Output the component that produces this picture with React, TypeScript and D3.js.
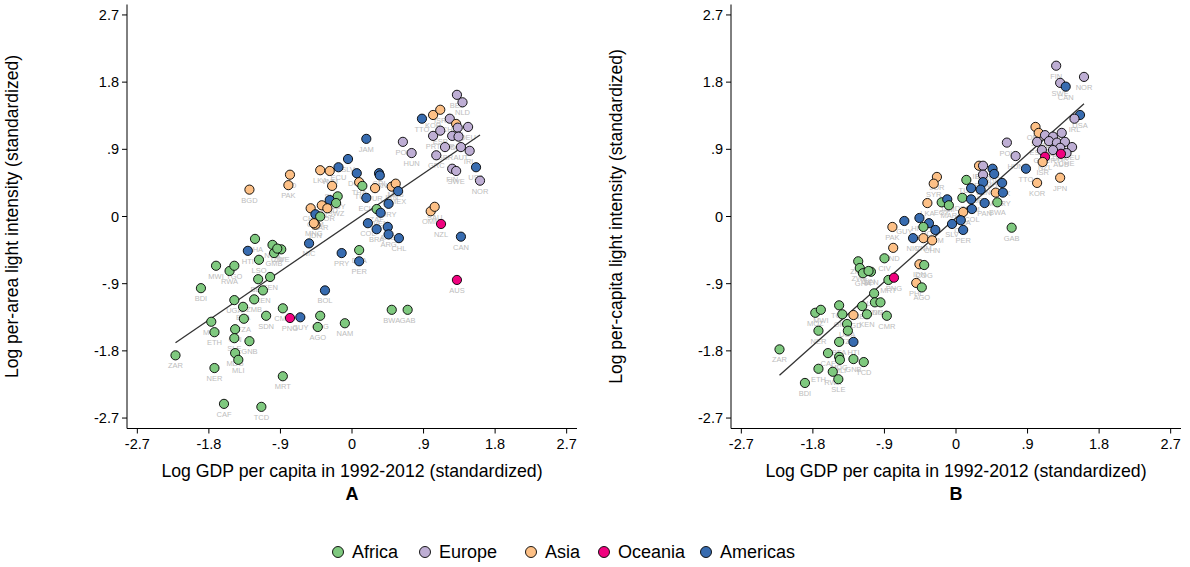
import React from 'react';
import * as d3 from 'd3';

// region colours (ColorBrewer Accent, as in the figure)
const regions = ['Africa', 'Europe', 'Asia', 'Oceania', 'Americas'];
const regionColors = ['#7fc97f', '#beaed4', '#fdc086', '#f0027f', '#386cb0'];
const regionCode = { AF: 'Africa', EU: 'Europe', AS: 'Asia', OC: 'Oceania', AM: 'Americas' };

const tickValues = [-2.7, -1.8, -0.9, 0, 0.9, 1.8, 2.7];
const tickLabels = ['-2.7', '-1.8', '-.9', '0', '.9', '1.8', '2.7'];

const xTitle = 'Log GDP per capita in 1992-2012 (standardized)';

// panel A: [iso, region, log GDP pc, log per-area light]
const areaPoints = [
  ['ZAR', 'AF', -2.22, -1.86], ['NER', 'AF', -1.73, -2.03], ['CAF', 'AF', -1.61, -2.51],
  ['TCD', 'AF', -1.14, -2.55], ['MRT', 'AF', -0.87, -2.14], ['BDI', 'AF', -1.90, -0.96],
  ['MWI', 'AF', -1.71, -0.66], ['RWA', 'AF', -1.54, -0.73], ['TGO', 'AF', -1.48, -0.66],
  ['MOZ', 'AF', -1.77, -1.41], ['ETH', 'AF', -1.73, -1.55], ['UGA', 'AF', -1.48, -1.12],
  ['BFA', 'AF', -1.37, -1.21], ['TZA', 'AF', -1.36, -1.37], ['ZMB', 'AF', -1.23, -1.11],
  ['GIN', 'AF', -1.47, -1.51], ['SLE', 'AF', -1.48, -1.63], ['GNB', 'AF', -1.29, -1.67],
  ['MDG', 'AF', -1.47, -1.83], ['MLI', 'AF', -1.43, -1.92], ['GHA', 'AF', -1.22, -0.30],
  ['HTI', 'AM', -1.31, -0.46], ['NGA', 'AF', -1.00, -0.38], ['GMB', 'AF', -0.98, -0.49],
  ['ZWE', 'AF', -0.89, -0.44], ['LSO', 'AF', -1.17, -0.58], ['BEN', 'AF', -1.18, -0.84],
  ['SEN', 'AF', -1.03, -0.81], ['KEN', 'AF', -1.12, -0.99], ['SDN', 'AF', -1.08, -1.33],
  ['CMR', 'AF', -0.87, -1.23], ['PNG', 'OC', -0.78, -1.36], ['GUY', 'AM', -0.65, -1.35],
  ['COG', 'AF', -0.40, -1.33], ['AGO', 'AF', -0.43, -1.48], ['NAM', 'AF', -0.09, -1.43],
  ['BOL', 'AM', -0.34, -0.99], ['PRY', 'AM', -0.13, -0.49], ['DZA', 'AF', 0.09, -0.45],
  ['PER', 'AM', 0.09, -0.60], ['NIC', 'AM', -0.54, -0.36], ['CIV', 'AF', -0.94, -0.43],
  ['BGD', 'AS', -1.29, 0.36], ['IND', 'AS', -0.78, 0.56], ['PAK', 'AS', -0.80, 0.42],
  ['LKA', 'AS', -0.40, 0.62], ['VNM', 'AS', -0.28, 0.61], ['SLV', 'AM', -0.05, 0.77],
  ['JAM', 'AM', 0.18, 1.04], ['DOM', 'AM', 0.06, 0.58], ['THA', 'AS', 0.09, 0.46],
  ['TUN', 'AF', 0.13, 0.41], ['ECU', 'AM', 0.18, 0.25], ['COL', 'AM', 0.20, -0.09],
  ['SYR', 'AS', -0.25, 0.41], ['EGY', 'AF', -0.18, 0.27], ['HND', 'AM', -0.28, 0.22],
  ['SWZ', 'AF', -0.20, 0.18], ['PHL', 'AS', -0.38, 0.15], ['CHN', 'AS', -0.52, 0.11],
  ['GTM', 'AM', -0.46, 0.03], ['JOR', 'AS', -0.31, 0.11], ['MAR', 'AF', -0.40, 0.0],
  ['IDN', 'AS', -0.46, -0.11], ['BEL', 'EU', 1.32, 1.63], ['NLD', 'EU', 1.39, 1.53],
  ['TTO', 'AM', 0.88, 1.31], ['KOR', 'AS', 1.02, 1.36], ['ISR', 'AS', 1.11, 1.43],
  ['CHE', 'EU', 1.23, 1.31], ['JPN', 'AS', 1.31, 1.24], ['DEU', 'EU', 1.46, 1.20],
  ['ITA', 'EU', 1.33, 1.19], ['PRT', 'EU', 1.02, 1.08], ['ESP', 'EU', 1.11, 1.15],
  ['FRA', 'EU', 1.26, 1.08], ['DNK', 'EU', 1.34, 1.07], ['GBR', 'EU', 1.17, 0.93],
  ['AUT', 'EU', 1.37, 0.93], ['GRC', 'EU', 1.06, 0.82], ['IRL', 'EU', 1.48, 0.88],
  ['USA', 'AM', 1.56, 0.66], ['FIN', 'EU', 1.26, 0.64], ['SWE', 'EU', 1.31, 0.61],
  ['NOR', 'EU', 1.61, 0.48], ['POL', 'EU', 0.64, 1.00], ['HUN', 'EU', 0.75, 0.85],
  ['CRI', 'AM', 0.34, 0.58], ['PAN', 'AM', 0.35, 0.55], ['TUR', 'AS', 0.29, 0.38],
  ['IRN', 'AS', 0.50, 0.40], ['MYS', 'AS', 0.55, 0.44], ['MEX', 'AM', 0.58, 0.34],
  ['URY', 'AM', 0.46, 0.17], ['ZAF', 'AF', 0.31, 0.10], ['VEN', 'AM', 0.36, 0.05],
  ['BRA', 'AM', 0.31, -0.17], ['ARG', 'AM', 0.45, -0.14], ['CHL', 'AM', 0.59, -0.29],
  ['ARG', 'AM', 0.46, -0.24], ['OMN', 'AS', 0.99, 0.07], ['SAU', 'AS', 1.04, 0.13],
  ['NZL', 'OC', 1.12, -0.10], ['CAN', 'AM', 1.37, -0.27], ['AUS', 'OC', 1.32, -0.85],
  ['BWA', 'AF', 0.50, -1.25], ['GAB', 'AF', 0.70, -1.25], ['MNG', 'AS', -0.48, -0.09],
  ['ECU', 'AM', -0.17, 0.66]
];

// panel B: [iso, region, log GDP pc, log per-capita light]
const capitaPoints = [
  ['FIN', 'EU', 1.26, 2.02], ['NOR', 'EU', 1.61, 1.87], ['SWE', 'EU', 1.31, 1.79],
  ['CAN', 'AM', 1.38, 1.74], ['USA', 'AM', 1.56, 1.36], ['IRL', 'EU', 1.49, 1.31],
  ['OMN', 'AS', 1.00, 1.20], ['SAU', 'AS', 1.04, 1.12], ['GBR', 'EU', 1.12, 1.09],
  ['FRA', 'EU', 1.22, 1.07], ['NLD', 'EU', 1.33, 1.12], ['ESP', 'EU', 1.02, 1.00],
  ['ITA', 'EU', 1.17, 1.01], ['BEL', 'EU', 1.27, 0.99], ['AUT', 'EU', 1.37, 1.00],
  ['DEU', 'EU', 1.46, 0.93], ['GRC', 'EU', 1.08, 0.89], ['DNK', 'EU', 1.31, 0.92],
  ['CHE', 'EU', 1.39, 0.85], ['PRT', 'EU', 1.22, 0.89], ['NZL', 'OC', 1.12, 0.80],
  ['AUS', 'OC', 1.32, 0.84], ['ISR', 'AS', 1.09, 0.73], ['JPN', 'AS', 1.31, 0.52],
  ['KOR', 'AS', 1.02, 0.45], ['TTO', 'AM', 0.88, 0.64], ['POL', 'EU', 0.64, 0.99],
  ['HUN', 'EU', 0.75, 0.81], ['IRN', 'AS', 0.29, 0.68], ['BGR', 'EU', 0.34, 0.68],
  ['ARG', 'AM', 0.46, 0.64], ['CHL', 'AM', 0.48, 0.57], ['ROM', 'EU', 0.34, 0.56],
  ['VEN', 'AM', 0.34, 0.46], ['MEX', 'AM', 0.58, 0.45], ['TUN', 'AF', 0.13, 0.49],
  ['ECU', 'AM', 0.19, 0.38], ['BRA', 'AM', 0.31, 0.36], ['MYS', 'AS', 0.50, 0.32],
  ['URY', 'AM', 0.59, 0.32], ['BWA', 'AF', 0.52, 0.19], ['PAN', 'AM', 0.36, 0.18],
  ['DZA', 'AF', 0.08, 0.25], ['DOM', 'AM', 0.19, 0.23], ['COL', 'AM', 0.20, 0.10],
  ['THA', 'AS', 0.09, 0.06], ['CRI', 'AM', 0.06, -0.05], ['SLV', 'AM', -0.05, -0.10],
  ['PER', 'AM', 0.09, -0.18], ['GAB', 'AF', 0.70, -0.15], ['JOR', 'AS', -0.24, 0.53],
  ['SYR', 'AS', -0.28, 0.44], ['LKA', 'AS', -0.36, 0.18], ['EGY', 'AF', -0.18, 0.19],
  ['JAM', 'AM', -0.11, 0.23], ['MAR', 'AF', -0.09, 0.15], ['GUY', 'AM', -0.65, -0.06],
  ['HND', 'AM', -0.46, -0.02], ['BOL', 'AM', -0.34, -0.09], ['SWZ', 'AF', -0.41, -0.14],
  ['GTM', 'AM', -0.26, -0.18], ['NIC', 'AM', -0.54, -0.29], ['VNM', 'AS', -0.41, -0.29],
  ['CHN', 'AS', -0.30, -0.32], ['PAK', 'AS', -0.80, -0.14], ['IND', 'AS', -0.79, -0.42],
  ['CIV', 'AF', -0.90, -0.56], ['ZMB', 'AF', -1.23, -0.60], ['ZWE', 'AF', -1.21, -0.69],
  ['GHA', 'AF', -1.17, -0.76], ['SEN', 'AF', -1.07, -0.74], ['MRT', 'AF', -0.85, -0.85],
  ['PNG', 'OC', -0.78, -0.82], ['IDN', 'AS', -0.46, -0.64], ['COG', 'AF', -0.40, -0.65],
  ['PHL', 'AS', -0.50, -0.89], ['AGO', 'AF', -0.43, -0.95], ['LSO', 'AF', -1.03, -1.03],
  ['SDN', 'AF', -1.02, -1.15], ['NGA', 'AF', -0.95, -1.15], ['BEN', 'AF', -1.18, -1.20],
  ['KEN', 'AF', -1.12, -1.31], ['CMR', 'AF', -0.87, -1.33], ['BGD', 'AS', -1.29, -1.32],
  ['TGO', 'AF', -1.47, -1.19], ['GMB', 'AF', -1.43, -1.31], ['MOZ', 'AF', -1.77, -1.29],
  ['MWI', 'AF', -1.70, -1.25], ['NER', 'AF', -1.73, -1.53], ['UGA', 'AF', -1.37, -1.44],
  ['TZA', 'AF', -1.36, -1.53], ['BFA', 'AF', -1.47, -1.68], ['HTI', 'AM', -1.29, -1.68],
  ['ZAR', 'AF', -2.22, -1.78], ['CAF', 'AF', -1.61, -1.83], ['MDG', 'AF', -1.47, -1.88],
  ['GNB', 'AF', -1.29, -1.91], ['TCD', 'AF', -1.16, -1.95], ['ETH', 'AF', -1.73, -2.04],
  ['RWA', 'AF', -1.55, -2.08], ['SLE', 'AF', -1.48, -2.18], ['BDI', 'AF', -1.90, -2.23],
  ['MLI', 'AF', -1.46, -1.92], ['GIN', 'AF', -1.10, -0.73]
];

const yTop = 4.5;
const yBottom = 428.5;

function Panel({ points, x0, letter, yTitle }) {
  const x = d3.scaleLinear().domain([-2.83, 2.83]).range([x0, x0 + 450]);
  const y = d3.scaleLinear().domain([-2.84, 2.84]).range([yBottom, yTop]);
  const color = d3.scaleOrdinal(regions, regionColors);

  // OLS fit line
  const mx = d3.mean(points, d => d[2]);
  const my = d3.mean(points, d => d[3]);
  const sxy = d3.sum(points, d => (d[2] - mx) * (d[3] - my));
  const sxx = d3.sum(points, d => (d[2] - mx) ** 2);
  const b = sxy / sxx;
  const a = my - b * mx;
  const [xmin, xmax] = d3.extent(points, d => d[2]);
  const line = d3.line().x(d => x(d[0])).y(d => y(d[1]));
  const fit = line([[xmin, a + b * xmin], [xmax, a + b * xmax]]);

  const xl = x0;
  const midX = x(0);

  return (
    <g>
      {/* axes */}
      <line x1={xl} x2={xl} y1={yTop} y2={yBottom} stroke="#000" strokeWidth={1} />
      <line x1={xl} x2={x0 + 450} y1={yBottom} y2={yBottom} stroke="#000" strokeWidth={1} />
      {tickValues.map((t, i) => (
        <g key={'y' + i}>
          <line x1={xl - 5} x2={xl} y1={y(t)} y2={y(t)} stroke="#000" />
          <text x={xl - 8} y={y(t)} dy="0.35em" textAnchor="end" fontSize={14.5}>{tickLabels[i]}</text>
        </g>
      ))}
      {tickValues.map((t, i) => (
        <g key={'x' + i}>
          <line x1={x(t)} x2={x(t)} y1={yBottom} y2={yBottom + 5} stroke="#000" />
          <text x={x(t)} y={yBottom + 20} textAnchor="middle" fontSize={14.5}>{tickLabels[i]}</text>
        </g>
      ))}
      <text x={midX} y={477} textAnchor="middle" fontSize={17.7}>{xTitle}</text>
      <text x={midX} y={500} textAnchor="middle" fontSize={18} fontWeight="bold">{letter}</text>
      <text transform={`translate(${xl - 109},${y(0)}) rotate(-90)`} textAnchor="middle" fontSize={17.5}>{yTitle}</text>

      {/* labels */}
      <g fill="#bdbdbd" fontSize={7.5} textAnchor="middle">
        {points.map((d, i) => (
          <text key={'l' + i} x={x(d[2])} y={y(d[3]) + 13}>{d[0]}</text>
        ))}
      </g>
      <path d={fit} stroke="#333" strokeWidth={1.3} fill="none" />
      {points.map((d, i) => (
        <circle key={'p' + i} cx={x(d[2])} cy={y(d[3])} r={4.6}
          fill={color(regionCode[d[1]])} stroke="#000" strokeWidth={0.9} />
      ))}
    </g>
  );
}

const legendX = [338, 425, 531, 604, 706];

export default function App() {
  return (
    <svg width={1190} height={567}
      style={{ position: 'absolute', left: 0, top: 0, fontFamily: '"Liberation Sans", Arial, Helvetica, sans-serif' }}>
      <rect width={1190} height={567} fill="#fff" />
      <Panel points={areaPoints} x0={127} letter="A" yTitle="Log per-area light intensity (standardized)" />
      <Panel points={capitaPoints} x0={731} letter="B" yTitle="Log per-capita light intensity (standardized)" />
      {regions.map((r, i) => (
        <g key={r}>
          <circle cx={legendX[i]} cy={552} r={5.5} fill={regionColors[i]} stroke="#000" strokeWidth={0.9} />
          <text x={legendX[i] + 14} y={552} dy="0.35em" fontSize={18}>{r}</text>
        </g>
      ))}
    </svg>
  );
}
